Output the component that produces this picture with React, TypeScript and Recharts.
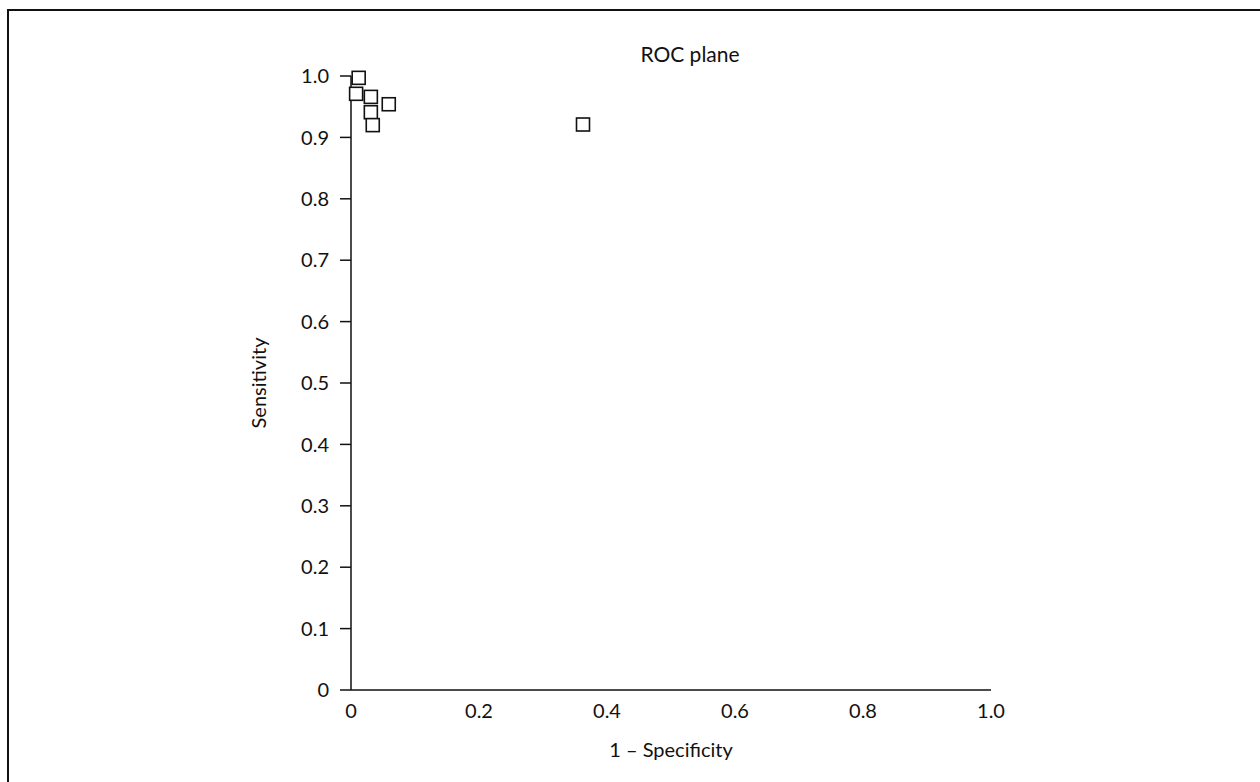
import { ScatterChart, Scatter, XAxis, YAxis } from 'recharts';

// 1 - specificity (false positive rate) per study
const fpr = [0.012, 0.008, 0.031, 0.059, 0.031, 0.034, 0.3625]
// sensitivity per study
const sensitivity = [0.997, 0.971, 0.966, 0.954, 0.941, 0.92, 0.921]

const xTicks = [0, 0.2, 0.4, 0.6, 0.8, 1.0]
const yTicks = [0, 0.1, 0.2, 0.3, 0.4, 0.5, 0.6, 0.7, 0.8, 0.9, 1.0]

const FONT = 'Lato, "Open Sans", sans-serif'
const INK = '#111'

const fmt = (v: number) => (v === 0 ? '0' : v.toFixed(1))

const SquareMark = (props: any) => {
  const { cx, cy } = props
  const s = 13
  return (
    <rect x={cx - s / 2} y={cy - s / 2} width={s} height={s} fill="#fff" stroke={INK} strokeWidth={1.6} />
  )
}

export default function App() {
  const points = fpr.map((x, i) => ({ x, y: sensitivity[i] }))

  return (
    <div style={{ position: 'fixed', left: 0, top: 0, width: 1260, height: 782, overflow: 'hidden', background: '#fff', fontFamily: FONT }}>
      <div
        style={{
          position: 'absolute', left: 7, top: 9, width: 1300, height: 800,
          borderTop: `2px solid ${INK}`, borderLeft: `2px solid ${INK}`,
        }}
      />
      <svg width={1260} height={100} style={{ position: 'absolute', left: 0, top: 0 }}>
        <text x={690} y={62} textAnchor="middle" fill={INK} fontSize={21} fontFamily={FONT}>
          ROC plane
        </text>
      </svg>
      <div style={{ position: 'absolute', left: 0, top: 0 }}>
        <ScatterChart width={1260} height={782} margin={{ top: 76, right: 269, bottom: 22, left: 0 }}>
          <XAxis
            type="number"
            dataKey="x"
            domain={[0, 1]}
            ticks={xTicks}
            tickFormatter={fmt}
            interval={0}
            height={70}
            tickLine={false}
            tickSize={0}
            tickMargin={14}
            axisLine={{ stroke: INK, strokeWidth: 1.5 }}
            tick={{ fill: INK, fontSize: 20, fontFamily: FONT }}
            label={({ viewBox }: any) => (
              <text x={viewBox.x + viewBox.width / 2} y={757} textAnchor="middle" fill={INK} fontSize={20} fontFamily={FONT}>
                1 – Specificity
              </text>
            )}
          />
          <YAxis
            type="number"
            dataKey="y"
            domain={[0, 1]}
            ticks={yTicks}
            tickFormatter={fmt}
            interval={0}
            width={351}
            tickSize={11}
            tickMargin={11}
            tickLine={{ stroke: INK, strokeWidth: 1.5 }}
            axisLine={{ stroke: INK, strokeWidth: 1.5 }}
            tick={{ fill: INK, fontSize: 20, fontFamily: FONT }}
            label={({ viewBox }: any) => {
              const x = viewBox.x + viewBox.width - 85
              const y = viewBox.y + viewBox.height / 2
              return (
                <text x={x} y={y} transform={`rotate(-90, ${x}, ${y})`} textAnchor="middle" fill={INK} fontSize={20} fontFamily={FONT}>
                  Sensitivity
                </text>
              )
            }}
          />
          <Scatter data={points} shape={SquareMark} isAnimationActive={false} />
        </ScatterChart>
      </div>
    </div>
  )
}
